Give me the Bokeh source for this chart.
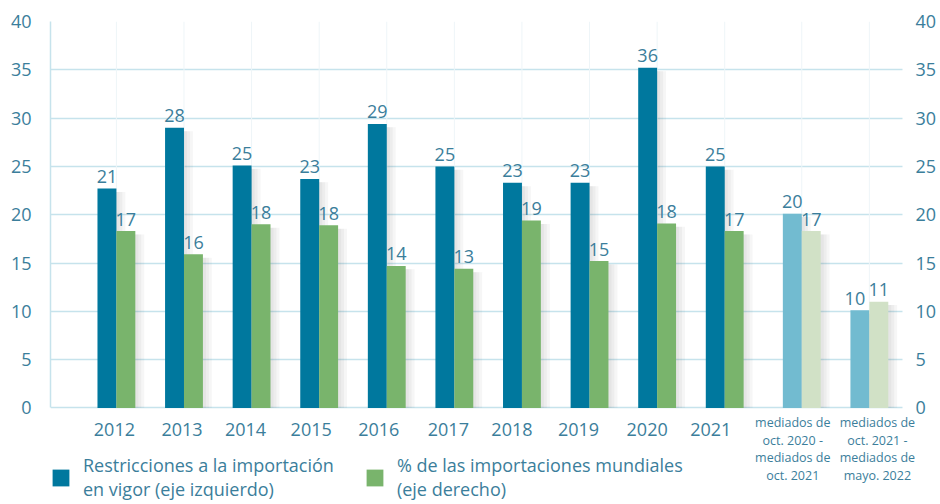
import numpy as np
from bokeh.plotting import figure
from bokeh.models import (Range1d, FixedTicker, LinearAxis, ColumnDataSource,
                          Legend, LegendItem, LabelSet, Label, Grid)
from bokeh.core.properties import value
from bokeh.embed import file_html
from bokeh.resources import INLINE

# ---------------- data ----------------
categories = ["2012", "2013", "2014", "2015", "2016", "2017", "2018", "2019",
              "2020", "2021",
              "mediados de\noct. 2020 -\nmediados de\noct. 2021",
              "mediados de\noct. 2021 -\nmediados de\nmayo. 2022"]
is_period = [0, 0, 0, 0, 0, 0, 0, 0, 0, 0, 1, 1]
restricciones = [22.7, 29.0, 25.1, 23.7, 29.4, 25.0, 23.3, 23.3, 35.2, 25.0, 20.1, 10.1]
importaciones = [18.3, 15.9, 19.0, 18.9, 14.7, 14.4, 19.4, 15.2, 19.1, 18.3, 18.3, 11.0]
restricciones_labels = ["21", "28", "25", "23", "29", "25", "23", "23", "36", "25", "20", "10"]
importaciones_labels = ["17", "16", "18", "18", "14", "13", "19", "15", "18", "17", "17", "11"]
y_ticks = [0, 5, 10, 15, 20, 25, 30, 35, 40]
legend_labels = ["Restricciones a la importación\nen vigor (eje izquierdo)",
                 "% de las importaciones mundiales\n(eje derecho)"]

# ---------------- style ----------------
FONT = "Open Sans"
TXT = "#3B7E9B"
GRID = "#C6E3EC"
BLUE, BLUE_L = "#00789E", "#72BBD0"
GREEN, GREEN_L = "#79B46C", "#D1E1C6"
PERIOD_GAP = 0.14
BW = 0.28

per = np.array(is_period)
x = np.arange(len(categories)) + per * PERIOD_GAP
X_START = -0.975
GRID_END = float(x[-1]) + 0.49
X_END = 11.867
blue_cols = [BLUE_L if q else BLUE for q in is_period]
green_cols = [GREEN_L if q else GREEN for q in is_period]
tick_dx = [-2, -2, -6, -8, -8, -6, -10, -11, -10, -14, -9, 8]
blue_label_dx = [0] * 11 + [-5]

n = len(categories)
src = ColumnDataSource(dict(
    xb=x - BW / 2, xg=x + BW / 2, x=x,
    rb=restricciones, ig=importaciones,
    rl=restricciones_labels, il=importaciones_labels,
    bc=blue_cols, gc=green_cols, bdx=blue_label_dx,
    zero=[0] * n, top=[max(y_ticks)] * n,
))

p = figure(width=940, height=504, output_backend="svg", toolbar_location=None,
           x_range=Range1d(X_START, X_END), y_range=Range1d(-10.0, 40),
           x_axis_location=None, min_border_left=50, min_border_right=22,
           min_border_top=21, min_border_bottom=0,
           outline_line_color=None)

p.xgrid.visible = False
if "cross_bounds" in Grid.properties():
    p.ygrid.ticker = FixedTicker(ticks=y_ticks)
    p.ygrid.grid_line_color = GRID
    p.ygrid.grid_line_width = 1.5
    p.ygrid.cross_bounds = (X_START, GRID_END)
else:
    p.ygrid.visible = False
    gs = ColumnDataSource(dict(y=y_ticks, x0=[X_START] * len(y_ticks),
                               x1=[GRID_END] * len(y_ticks)))
    p.segment(x0="x0", y0="y", x1="x1", y1="y", source=gs,
              line_color=GRID, line_width=1.5)

# faint vertical grid at category centres
p.segment(x0="x", y0="zero", x1="x", y1="top", source=src,
          line_color="#EEF5F8", line_width=1)

# axes
def style_axis(ax, standoff):
    ax.ticker = FixedTicker(ticks=y_ticks)
    ax.major_tick_in = 0
    ax.major_tick_out = 0
    ax.minor_tick_in = 0
    ax.minor_tick_out = 0
    ax.major_label_standoff = standoff
    ax.major_label_text_font = FONT
    ax.major_label_text_font_size = "18px"
    ax.major_label_text_color = TXT

style_axis(p.yaxis[0], 19)
p.yaxis[0].axis_line_color = GRID
p.yaxis[0].axis_line_width = 1.5
p.yaxis[0].bounds = (0, 40)
right = LinearAxis()
style_axis(right, -3)
right.axis_line_color = None
p.add_layout(right, "right")

# soft shadows to the right of the bars
for k in (1, 2, 3):
    off = k * 0.044
    s = ColumnDataSource(dict(xb=x - BW / 2 + off, xg=x + BW / 2 + off,
                              yr=[v - 0.35 for v in restricciones],
                              yi=[v - 0.35 for v in importaciones]))
    p.vbar(x="xb", top="yr", bottom=0, width=BW, source=s,
           fill_color="#555555", fill_alpha=0.055, line_color=None)
    p.vbar(x="xg", top="yi", bottom=0, width=BW, source=s,
           fill_color="#555555", fill_alpha=0.055, line_color=None)

rb = p.vbar(x="xb", top="rb", bottom=0, width=BW, source=src,
            fill_color="bc", line_color=None)
rg = p.vbar(x="xg", top="ig", bottom=0, width=BW, source=src,
            fill_color="gc", line_color=None)

# value labels
p.add_layout(LabelSet(x="xb", y="rb", text="rl", source=src, x_offset="bdx",
                      y_offset=12, text_align="center", text_baseline="middle",
                      text_font=value(FONT), text_font_size="18px", text_color=TXT))
p.add_layout(LabelSet(x="xg", y="ig", text="il", source=src,
                      y_offset=12, text_align="center", text_baseline="middle",
                      text_font=value(FONT), text_font_size="18px", text_color=TXT))

# category labels
for xi, cat, dx, q in zip(x, categories, tick_dx, is_period):
    if q:
        p.add_layout(Label(x=float(xi), y=0, text=cat, x_offset=dx, y_offset=-41,
                           text_align="center", text_baseline="middle",
                           text_font=FONT, text_font_size="12.5px", text_color=TXT,
                           text_line_height=1.03))
    else:
        p.add_layout(Label(x=float(xi), y=0, text=cat, x_offset=dx, y_offset=-22,
                           text_align="center", text_baseline="middle",
                           text_font=FONT, text_font_size="18px", text_color=TXT))

legend = Legend(items=[LegendItem(label=legend_labels[0], renderers=[rb], index=0),
                       LegendItem(label=legend_labels[1], renderers=[rg], index=0)],
                orientation="horizontal", location=(0, 3),
                margin=0, padding=3, spacing=30, glyph_width=21, glyph_height=21,
                label_standoff=12, label_text_font=FONT, label_text_font_size="18px",
                label_text_color=TXT,
                border_line_color=None, background_fill_alpha=0)
p.add_layout(legend, "center")

open("out.html", "w").write(file_html(p, INLINE))
